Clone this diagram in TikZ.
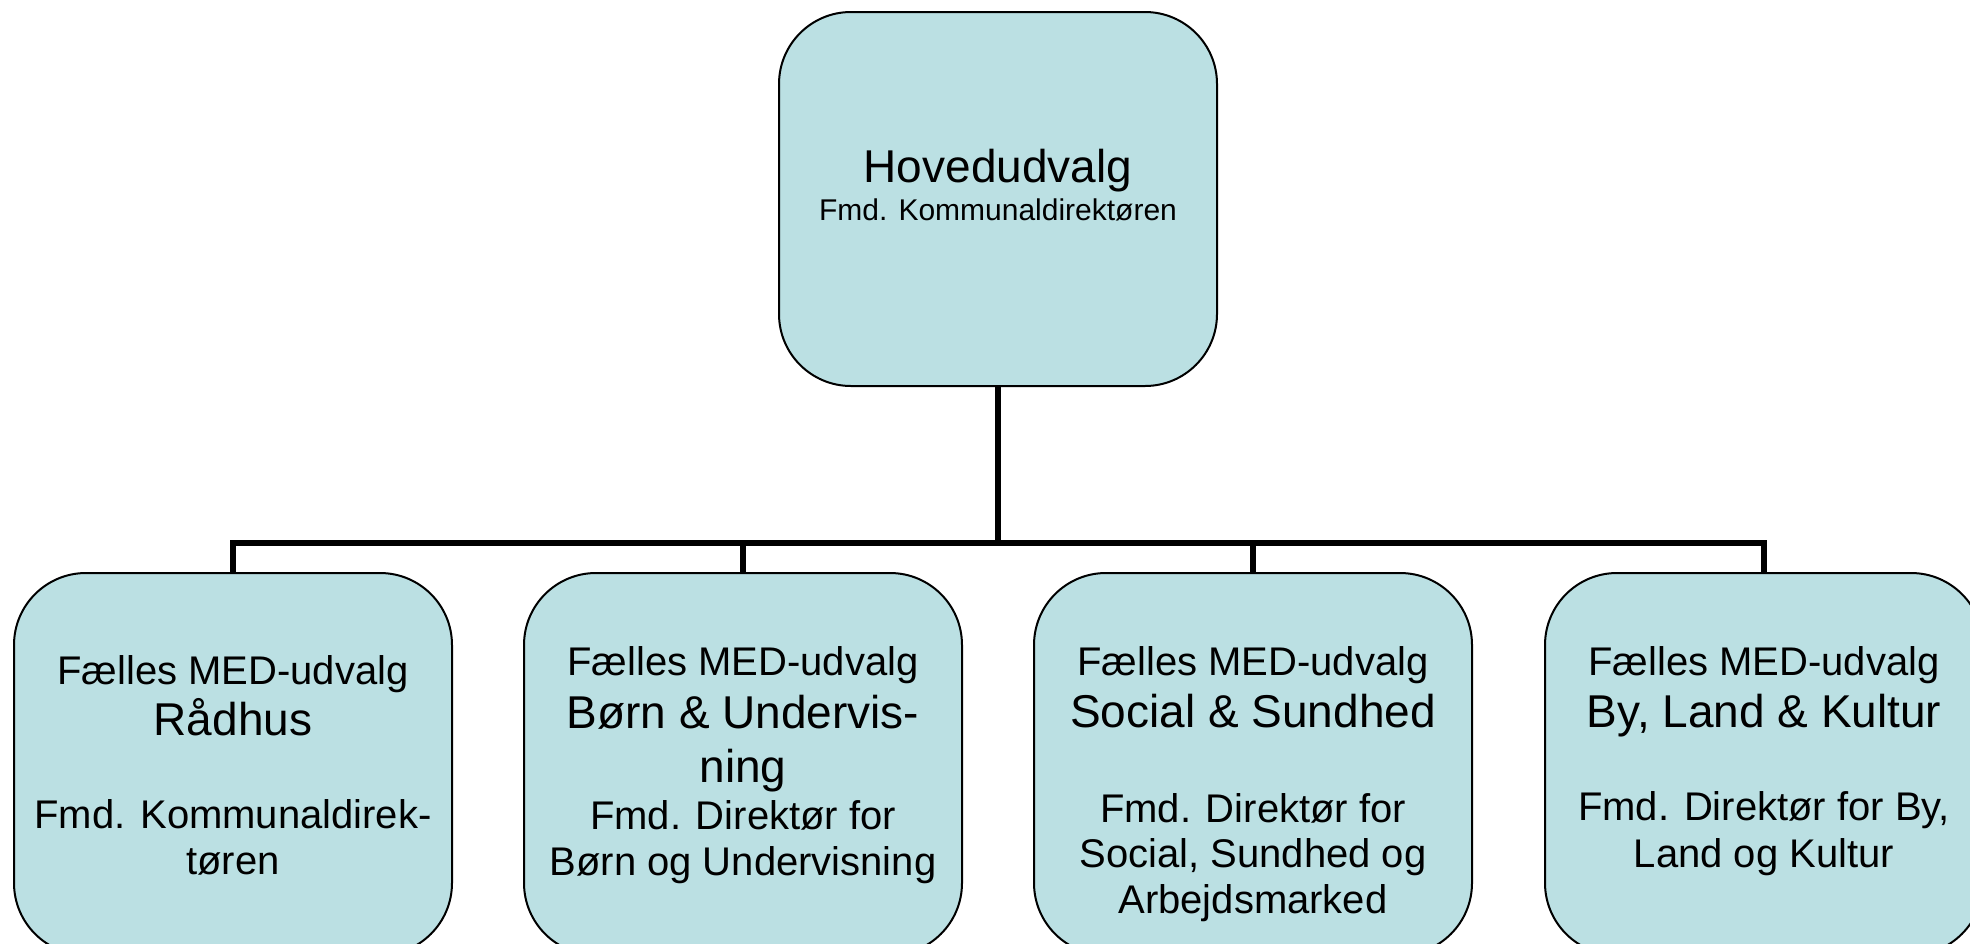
\documentclass[tikz,border=0pt]{standalone}
\usepackage{fontspec}
\setmainfont{Liberation Sans}
\definecolor{boxfill}{RGB}{187,224,227}
\begin{document}
\begin{tikzpicture}[x=1pt,y=-1pt,
  orgbox/.style={rectangle,draw=black,line width=2pt,fill=boxfill,rounded corners=72pt,minimum width=438pt,inner sep=0pt},
  conn/.style={draw=black,line width=5.5pt,line join=miter},
  big/.style={anchor=base,inner sep=0pt,font=\fontsize{46}{52}\selectfont},
  mid/.style={anchor=base,inner sep=0pt,font=\fontsize{40}{46}\selectfont},
  small/.style={anchor=base,inner sep=0pt,font=\fontsize{30}{36}\selectfont}]
\useasboundingbox (0,0) rectangle (1970,943);
% boxes
\node[orgbox,minimum height=374pt] (top) at (998,199) {};
\node[orgbox,minimum height=382pt] (b1) at (233,764) {};
\node[orgbox,minimum height=382pt] (b2) at (743,764) {};
\node[orgbox,minimum height=382pt] (b3) at (1253,764) {};
\node[orgbox,minimum height=382pt] (b4) at (1764,764) {};
% connectors
\coordinate (j) at (998,543);
\draw[conn] (top.south) -- (j);
\draw[conn] (b1.north) |- (j) -| (b4.north);
\draw[conn] (b2.north) -- (b2.north |- j);
\draw[conn] (b3.north) -- (b3.north |- j);
% texts
\node[big] (t0a) at (998,182) {Hovedudvalg};
\node[small] (t0b) at (998,220) {Fmd. Kommunaldirektøren};
\node[mid] (t1a) at (233,684) {Fælles MED-udvalg};
\node[big] (t1b) at (233,735) {Rådhus};
\node[mid] (t1c) at (233,828) {Fmd. Kommunaldirek-};
\node[mid] (t1d) at (233,874) {tøren};
\node[mid] (t2a) at (743,675) {Fælles MED-udvalg};
\node[big] (t2b) at (743,728) {Børn \& Undervis-};
\node[big] (t2c) at (743,782) {ning};
\node[mid] (t2d) at (743,829) {Fmd. Direktør for};
\node[mid] (t2e) at (743,875) {Børn og Undervisning};
\node[mid] (t3a) at (1253,675) {Fælles MED-udvalg};
\node[big] (t3b) at (1253,727) {Social \& Sundhed};
\node[mid] (t3c) at (1253,822) {Fmd. Direktør for};
\node[mid] (t3d) at (1253,867) {Social, Sundhed og};
\node[mid] (t3e) at (1253,913) {Arbejdsmarked};
\node[mid] (t4a) at (1764,675) {Fælles MED-udvalg};
\node[big] (t4b) at (1764,727) {By, Land \& Kultur};
\node[mid] (t4c) at (1764,820) {Fmd. Direktør for By,};
\node[mid] (t4d) at (1764,867) {Land og Kultur};
\end{tikzpicture}
\end{document}
